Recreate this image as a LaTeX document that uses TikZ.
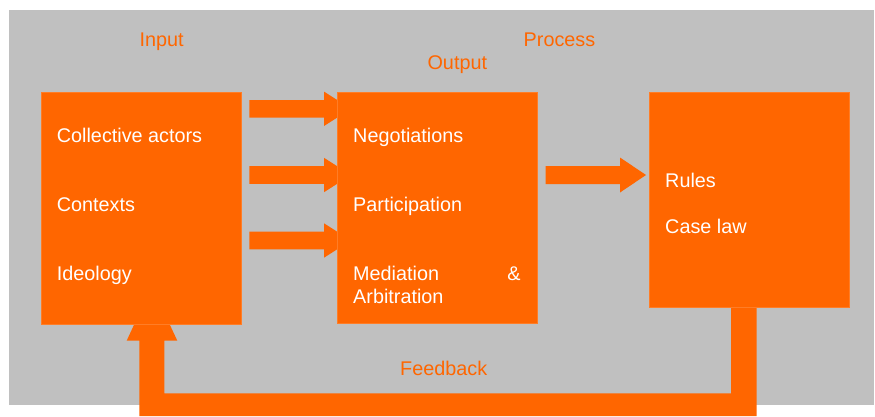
\documentclass[tikz,border=0pt]{standalone}
\usepackage{fontspec}
\setmainfont{Liberation Sans}
\definecolor{orng}{HTML}{FF6600}
\definecolor{bggray}{HTML}{C0C0C0}
\tikzset{
  box/.style={fill=orng, draw=orng!85!white, line width=0.6pt, anchor=north west, inner sep=0pt},
  blockarrow/.style={fill=orng, draw=none},
  intext/.style={text=white, anchor=base west, inner sep=0pt, font=\fontsize{19.8}{23}\selectfont},
  lbl/.style={text=orng, anchor=base, inner sep=0pt, font=\fontsize{19.8}{23}\selectfont},
}
\begin{document}
\begin{tikzpicture}[x=1pt,y=-1pt]
\useasboundingbox (0,0) rectangle (875,416);
\fill[bggray] (9,10) rectangle (874,405);
% labels
\node[lbl] (linput) at (161.7,46.5) {Input};
\node[lbl] (lprocess) at (559.5,46) {Process};
\node[lbl] (loutput) at (457.3,69) {Output};
\node[lbl] (lfeedback) at (443.7,375) {Feedback};
% arrows (drawn first, boxes cover tips)
\foreach \c in {108.8,175,240.5}{
  \fill[blockarrow] (249.3,\c-8.8) -- (324,\c-8.8) -- (324,\c-17.2) -- (351,\c) -- (324,\c+17.2) -- (324,\c+8.8) -- (249.3,\c+8.8) -- cycle;
}
\fill[blockarrow] (545.7,166) -- (620,166) -- (620,157.5) -- (646,175) -- (620,192.5) -- (620,184) -- (545.7,184) -- cycle;
\fill[blockarrow] (139.3,416) -- (756.7,416) -- (756.7,300) -- (731,300) -- (731,393.3) -- (164.3,393.3) -- (164.3,340.7) -- (177.3,340.7) -- (151.8,286) -- (126.7,340.7) -- (139.3,340.7) -- cycle;
% boxes
\node[box, minimum width=199.5pt, minimum height=232.3pt] (inbox) at (41,91.7) {};
\node[box, minimum width=199.4pt, minimum height=231.6pt] (procbox) at (337.3,91.7) {};
\node[box, minimum width=199.7pt, minimum height=215.6pt] (outbox) at (649.3,91.7) {};
% box texts
\node[intext] (t1) at (56.7,142.3) {Collective actors};
\node[intext] (t2) at (56.7,211.3) {Contexts};
\node[intext] (t3) at (56.7,280.3) {Ideology};
\node[intext] (t4) at (353,142.3) {Negotiations};
\node[intext] (t5) at (353,211.3) {Participation};
\node[intext] (t6) at (353,280.3) {Mediation};
\node[intext, anchor=base east] (t6b) at (520.7,280.3) {\&};
\node[intext] (t7) at (353,303.3) {Arbitration};
\node[intext] (t8) at (665,187.3) {Rules};
\node[intext] (t9) at (665,233.3) {Case law};
\end{tikzpicture}
\end{document}
